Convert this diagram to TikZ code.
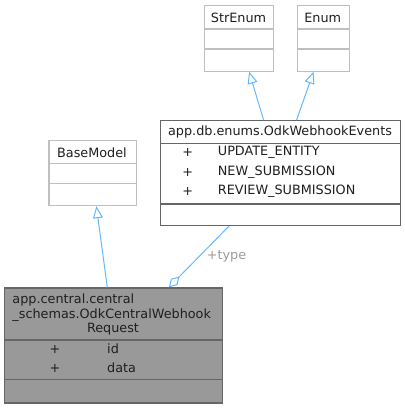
\documentclass[tikz,border=0pt]{standalone}
\usepackage{fontspec}
\setmainfont{DejaVu Sans}
\usetikzlibrary{arrows.meta,calc}
\definecolor{edgeblue}{HTML}{63B8FF}
\definecolor{lightborder}{HTML}{BFBFBF}
\definecolor{darkborder}{HTML}{666666}
\definecolor{mainfill}{HTML}{999999}
\definecolor{labelgrey}{HTML}{9A9A9A}
\tikzset{
  lightbox/.style={draw=lightborder, line width=1.2pt, fill=white, inner sep=0pt},
  mainbox/.style={draw=darkborder, line width=1.2pt, fill=mainfill, inner sep=0pt},
  txt/.style={font=\fontsize{12.8}{15}\selectfont, inner sep=0pt, text=black!88},
  inherit/.style={draw=edgeblue, line width=1pt, -{Triangle[open, length=12pt, width=10pt]}},
  aggr/.style={draw=edgeblue, line width=1pt, -{Diamond[open, length=15pt, width=9pt]}},
  lbl/.style={font=\fontsize{12.8}{15}\selectfont, inner sep=0pt, text=labelgrey},
}
\begin{document}
\begin{tikzpicture}[x=1pt,y=-1pt]
\useasboundingbox (0,0) rectangle (405,408);
% StrEnum
\node[lightbox, minimum width=69pt, minimum height=65.5pt, anchor=north west] (strenum) at (204,5) {};
\draw[lightborder, line width=1.2pt] (204,29) -- (273,29) (204,49) -- (273,49);
\node[txt] (strenumt) at (238.5,17.5) {StrEnum};
% Enum
\node[lightbox, minimum width=51.5pt, minimum height=65.5pt, anchor=north west] (enum) at (297,5) {};
\draw[lightborder, line width=1.2pt] (297,29) -- (348.5,29) (297,49) -- (348.5,49);
\node[txt] (enumt) at (322.7,17.5) {Enum};
% BaseModel
\node[lightbox, minimum width=87.5pt, minimum height=65pt, anchor=north west] (base) at (48.3,140) {};
\draw[lightborder, line width=1.2pt] (48.3,163.3) -- (135.8,163.3) (48.3,183.3) -- (135.8,183.3);
\node[txt] (baset) at (92,152.5) {BaseModel};
% OdkWebhookEvents
\node[mainbox, fill=white, minimum width=240pt, minimum height=105pt, anchor=north west] (events) at (160,120) {};
\draw[darkborder, line width=1.2pt] (160,143.3) -- (400,143.3) (160,204) -- (400,204);
\node[txt] (eventst) at (280,131.5) {app.db.enums.OdkWebhookEvents};
\node[txt] (ep1) at (187.7,152.7) {+};
\node[txt] (ep2) at (187.7,172.4) {+};
\node[txt] (ep3) at (187.7,191.7) {+};
\node[txt, anchor=west] (ea1) at (217.7,152.7) {UPDATE\_ENTITY};
\node[txt, anchor=west] (ea2) at (217.7,172.4) {NEW\_SUBMISSION};
\node[txt, anchor=west] (ea3) at (217.7,191.7) {REVIEW\_SUBMISSION};
% Main class
\node[mainbox, minimum width=217.4pt, minimum height=115pt, anchor=north west] (main) at (4.3,287.3) {};
\draw[darkborder, line width=1.2pt] (4.3,340) -- (221.7,340) (4.3,379.3) -- (221.7,379.3);
\node[txt, anchor=west] (mt1) at (12.3,300) {app.central.central};
\node[txt, anchor=west] (mt2) at (12.3,315) {\_schemas.OdkCentralWebhook};
\node[txt] (mt3) at (113,329.5) {Request};
\node[txt] (mp1) at (55,349) {+};
\node[txt] (mp2) at (55,368) {+};
\node[txt, anchor=west] (ma1) at (107,349) {id};
\node[txt, anchor=west] (ma2) at (107,368) {data};
% connectors
\draw[inherit] ([xshift=-6.3pt]main.north) -- ([xshift=3.7pt]base.south);
\draw[inherit] ([xshift=-17pt]events.north) -- ([xshift=10pt]strenum.south);
\draw[inherit] ([xshift=16pt]events.north) -- ([xshift=-9.8pt]enum.south);
\draw[aggr] ([xshift=-51.7pt]events.south) -- ([xshift=55.3pt]main.north);
\node[lbl] (typelbl) at (226.5,256) {+type};
\end{tikzpicture}
\end{document}
